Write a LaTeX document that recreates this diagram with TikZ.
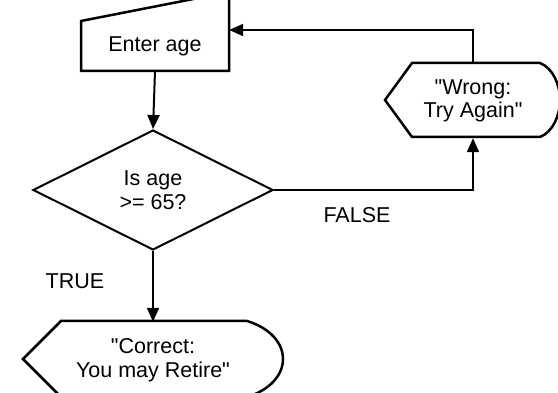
\documentclass[tikz,border=0pt]{standalone}
\usepackage{fontspec}
\setmainfont{Liberation Sans}
\usetikzlibrary{shapes.geometric,arrows.meta}

\tikzset{
  txt/.style={font=\fontsize{21.5}{23.5}\selectfont, align=center, inner sep=0pt},
  flow/.style={line width=2pt, -{Triangle[length=14pt,width=12pt]}},
  outline/.style={line width=2.5pt, line join=miter}
}

\begin{document}
\begin{tikzpicture}[x=1pt, y=-1pt]
    \useasboundingbox[fill=white] (0,0) rectangle (558,393);
    % Draw the text of the boxes
    \node[txt, minimum width=148pt, minimum height=50pt] (enter) at (155,46) {Enter age};
    \node[txt, diamond, draw, line width=2pt, aspect=2, minimum width=240pt, minimum height=120pt] (check) at (153,190) {Is age\\>= 65?};
    \node[txt, minimum width=175pt, minimum height=74pt] (wrong) at (473,101) {\textquotedbl Wrong:\\Try Again\textquotedbl};
    \node[txt, minimum width=260pt, minimum height=76pt] (correct) at (153,360) {\textquotedbl Correct:\\You may Retire\textquotedbl};
    % Draw the outlines
    \draw[outline] (81,71) -- (81,21) -- (229,-8) -- (229,71) -- cycle;
    \draw[outline] (385,100) -- (412,63) -- (540,63)
        .. controls (553,68) and (560,85) .. (560,100)
        .. controls (560,115) and (553,132) .. (540,137) -- (412,137) -- cycle;
    \draw[outline] (23,359) -- (61,321) -- (247,321)
        .. controls (270,328) and (283,343) .. (283,359)
        .. controls (283,375) and (270,390) .. (247,397) -- (61,397) -- cycle;
    % Draw the arrows
    \coordinate (back) at (473,30);
    \draw[flow] (enter.south) -- (check.north);
    \draw[flow] (check.east) -| (wrong.south);
    \draw[flow] (wrong.north) -- (back) -- (back -| enter.east);
    \draw[flow] (check.south) -- (correct.north);
    % Add labels
    \node[txt] (false) at (357,215) {FALSE};
    \node[txt] (true) at (75,281) {TRUE};
\end{tikzpicture}
\end{document}
